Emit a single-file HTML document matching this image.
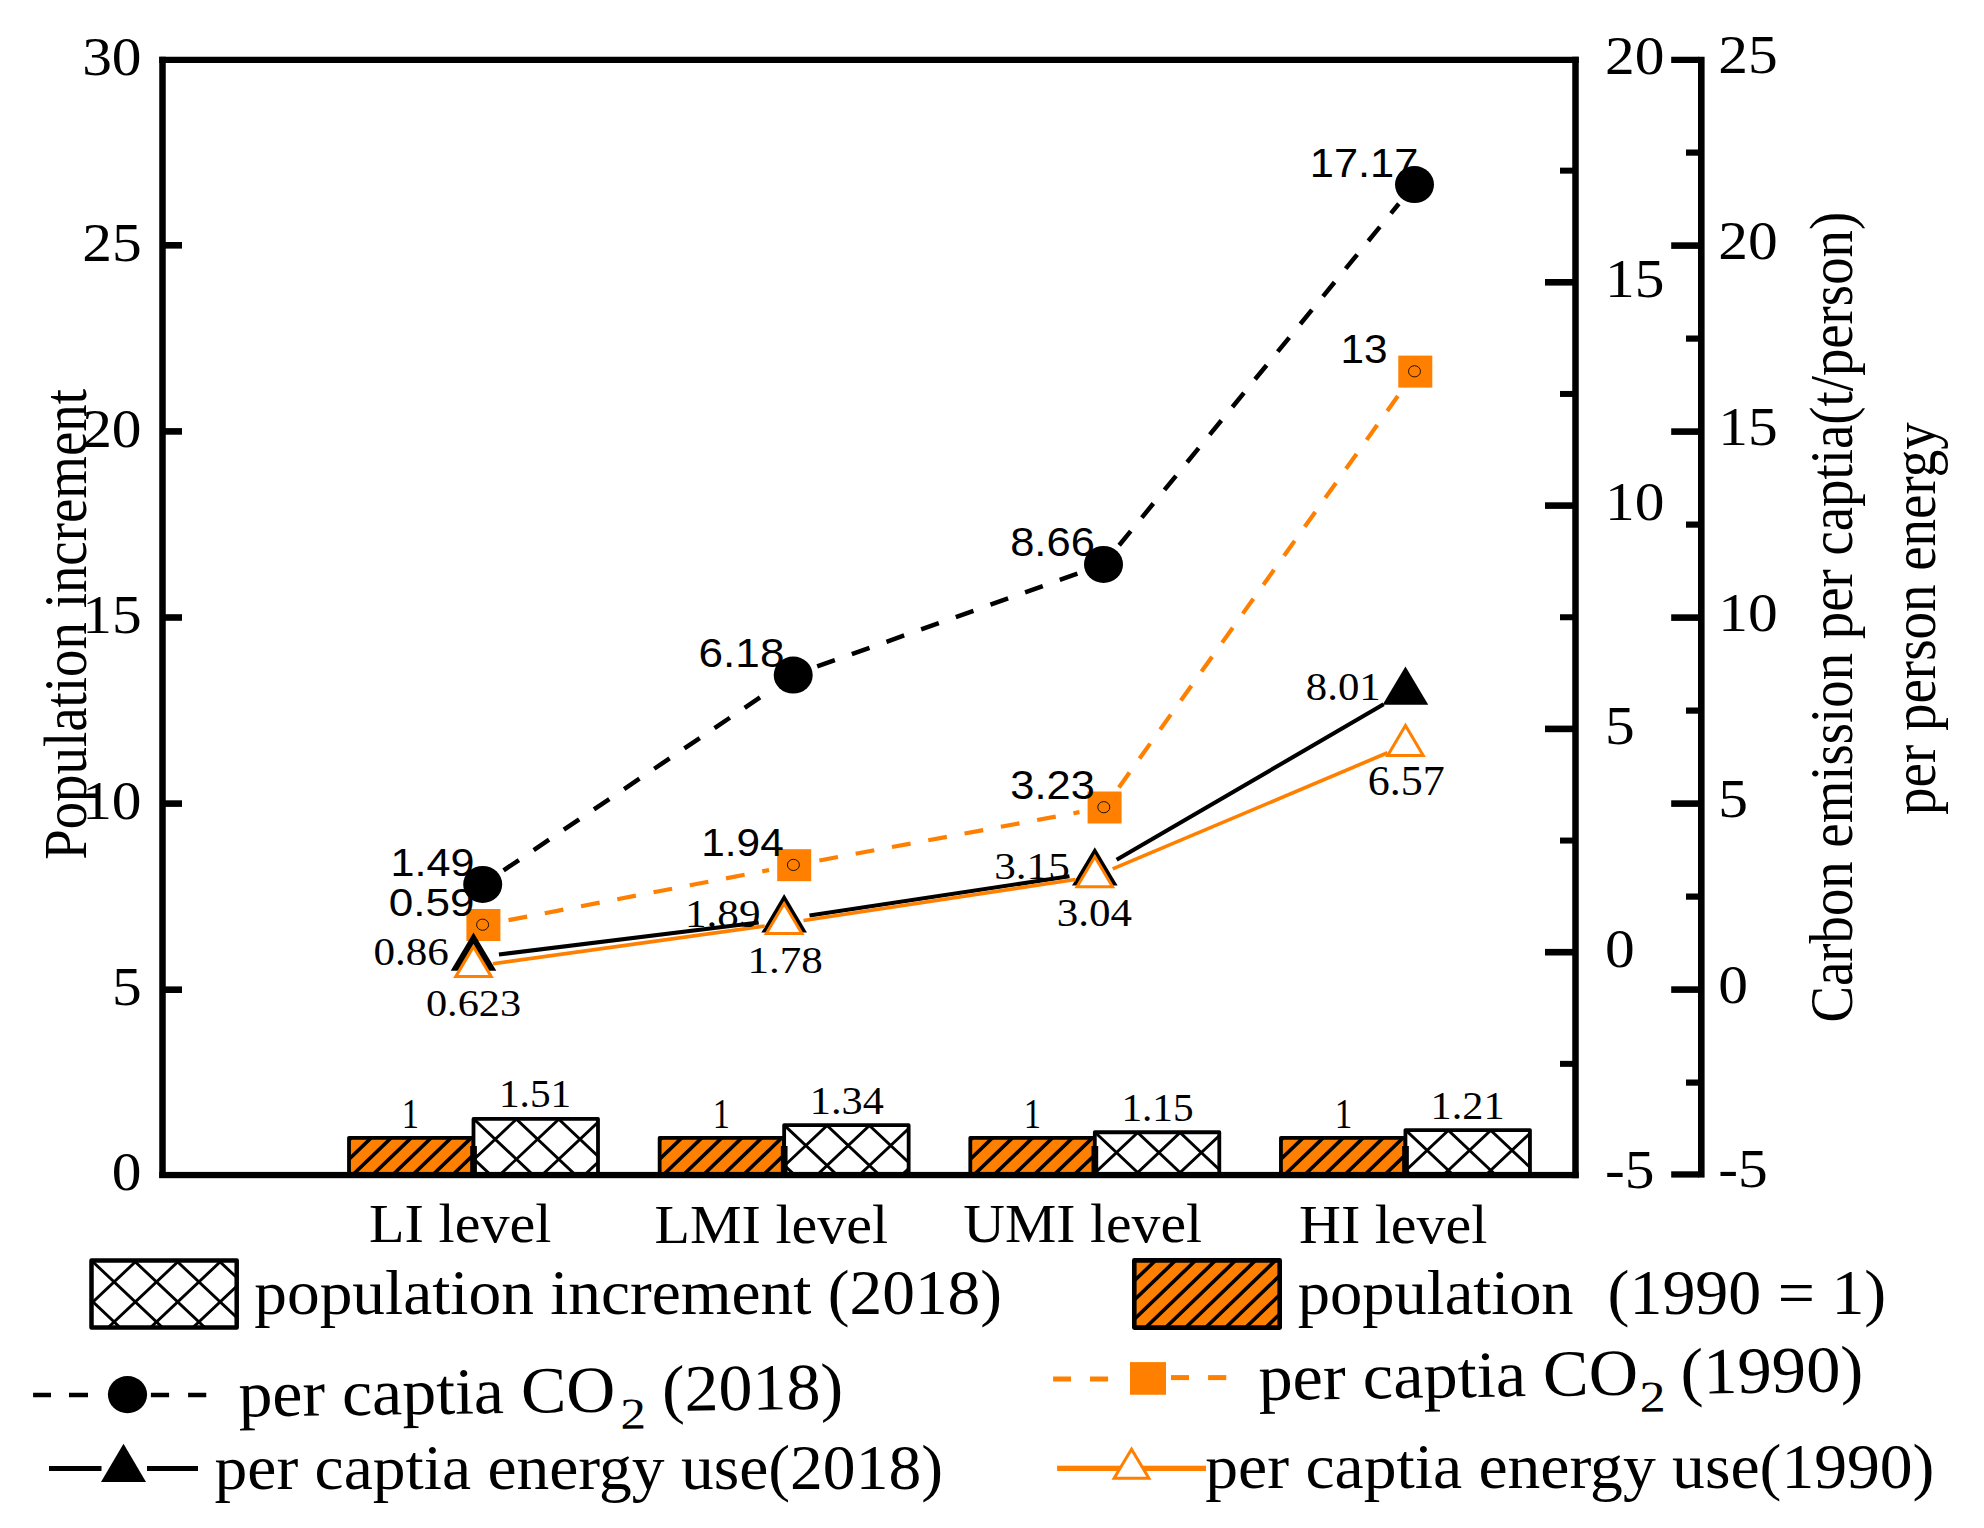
<!DOCTYPE html>
<html><head><meta charset="utf-8"><title>chart</title>
<style>html,body{margin:0;padding:0;background:#fff}svg{display:block}text{white-space:pre}</style></head>
<body><svg width="1984" height="1528" viewBox="0 0 1984 1528" shape-rendering="geometricPrecision">
<rect width="1984" height="1528" fill="#fff"/>
<clipPath id="c1"><rect x="349.00" y="1137.85" width="124.50" height="37.15"/></clipPath>
<rect x="349.00" y="1137.85" width="124.50" height="37.15" fill="#FF8000"/>
<path clip-path="url(#c1)" d="M336.38,1132.85L287.34,1180.00M356.38,1132.85L307.34,1180.00M376.38,1132.85L327.34,1180.00M396.38,1132.85L347.34,1180.00M416.38,1132.85L367.34,1180.00M436.38,1132.85L387.34,1180.00M456.38,1132.85L407.34,1180.00M476.38,1132.85L427.34,1180.00M496.38,1132.85L447.34,1180.00M516.38,1132.85L467.34,1180.00M536.38,1132.85L487.34,1180.00M556.38,1132.85L507.34,1180.00" stroke="#000" stroke-width="3.6" fill="none"/>
<rect x="349.00" y="1137.85" width="124.50" height="37.15" fill="none" stroke="#000" stroke-width="3.8" stroke-linejoin="round"/>
<clipPath id="c2"><rect x="473.50" y="1118.90" width="124.50" height="56.10"/></clipPath>
<rect x="473.50" y="1118.90" width="124.50" height="56.10" fill="#fff"/>
<path clip-path="url(#c2)" d="M341.50,1114.20L411.57,1180.30M383.90,1114.20L453.97,1180.30M426.30,1114.20L496.37,1180.30M468.70,1114.20L538.77,1180.30M511.10,1114.20L581.17,1180.30M553.50,1114.20L623.57,1180.30M595.90,1114.20L665.97,1180.30M638.30,1114.20L708.37,1180.30M436.90,1114.20L366.83,1180.30M479.30,1114.20L409.23,1180.30M521.70,1114.20L451.63,1180.30M564.10,1114.20L494.03,1180.30M606.50,1114.20L536.43,1180.30M648.90,1114.20L578.83,1180.30M691.30,1114.20L621.23,1180.30M733.70,1114.20L663.63,1180.30" stroke="#000" stroke-width="2.9" fill="none"/>
<rect x="473.50" y="1118.90" width="124.50" height="56.10" fill="none" stroke="#000" stroke-width="3.8" stroke-linejoin="round"/>
<clipPath id="c3"><rect x="659.65" y="1137.85" width="124.50" height="37.15"/></clipPath>
<rect x="659.65" y="1137.85" width="124.50" height="37.15" fill="#FF8000"/>
<path clip-path="url(#c3)" d="M647.03,1132.85L597.99,1180.00M667.03,1132.85L617.99,1180.00M687.03,1132.85L637.99,1180.00M707.03,1132.85L657.99,1180.00M727.03,1132.85L677.99,1180.00M747.03,1132.85L697.99,1180.00M767.03,1132.85L717.99,1180.00M787.03,1132.85L737.99,1180.00M807.03,1132.85L757.99,1180.00M827.03,1132.85L777.99,1180.00M847.03,1132.85L797.99,1180.00M867.03,1132.85L817.99,1180.00" stroke="#000" stroke-width="3.6" fill="none"/>
<rect x="659.65" y="1137.85" width="124.50" height="37.15" fill="none" stroke="#000" stroke-width="3.8" stroke-linejoin="round"/>
<clipPath id="c4"><rect x="784.15" y="1125.21" width="124.50" height="49.79"/></clipPath>
<rect x="784.15" y="1125.21" width="124.50" height="49.79" fill="#fff"/>
<path clip-path="url(#c4)" d="M652.15,1120.51L715.52,1180.30M694.55,1120.51L757.92,1180.30M736.95,1120.51L800.32,1180.30M779.35,1120.51L842.72,1180.30M821.75,1120.51L885.12,1180.30M864.15,1120.51L927.52,1180.30M906.55,1120.51L969.92,1180.30M948.95,1120.51L1012.32,1180.30M747.55,1120.51L684.18,1180.30M789.95,1120.51L726.58,1180.30M832.35,1120.51L768.98,1180.30M874.75,1120.51L811.38,1180.30M917.15,1120.51L853.78,1180.30M959.55,1120.51L896.18,1180.30M1001.95,1120.51L938.58,1180.30M1044.35,1120.51L980.98,1180.30" stroke="#000" stroke-width="2.9" fill="none"/>
<rect x="784.15" y="1125.21" width="124.50" height="49.79" fill="none" stroke="#000" stroke-width="3.8" stroke-linejoin="round"/>
<clipPath id="c5"><rect x="970.30" y="1137.85" width="124.50" height="37.15"/></clipPath>
<rect x="970.30" y="1137.85" width="124.50" height="37.15" fill="#FF8000"/>
<path clip-path="url(#c5)" d="M957.68,1132.85L908.64,1180.00M977.68,1132.85L928.64,1180.00M997.68,1132.85L948.64,1180.00M1017.68,1132.85L968.64,1180.00M1037.68,1132.85L988.64,1180.00M1057.68,1132.85L1008.64,1180.00M1077.68,1132.85L1028.64,1180.00M1097.68,1132.85L1048.64,1180.00M1117.68,1132.85L1068.64,1180.00M1137.68,1132.85L1088.64,1180.00M1157.68,1132.85L1108.64,1180.00M1177.68,1132.85L1128.64,1180.00" stroke="#000" stroke-width="3.6" fill="none"/>
<rect x="970.30" y="1137.85" width="124.50" height="37.15" fill="none" stroke="#000" stroke-width="3.8" stroke-linejoin="round"/>
<clipPath id="c6"><rect x="1094.80" y="1132.27" width="124.50" height="42.73"/></clipPath>
<rect x="1094.80" y="1132.27" width="124.50" height="42.73" fill="#fff"/>
<path clip-path="url(#c6)" d="M962.80,1127.57L1018.69,1180.30M1005.20,1127.57L1061.09,1180.30M1047.60,1127.57L1103.49,1180.30M1090.00,1127.57L1145.89,1180.30M1132.40,1127.57L1188.29,1180.30M1174.80,1127.57L1230.69,1180.30M1217.20,1127.57L1273.09,1180.30M1259.60,1127.57L1315.49,1180.30M1058.20,1127.57L1002.31,1180.30M1100.60,1127.57L1044.71,1180.30M1143.00,1127.57L1087.11,1180.30M1185.40,1127.57L1129.51,1180.30M1227.80,1127.57L1171.91,1180.30M1270.20,1127.57L1214.31,1180.30M1312.60,1127.57L1256.71,1180.30M1355.00,1127.57L1299.11,1180.30" stroke="#000" stroke-width="2.9" fill="none"/>
<rect x="1094.80" y="1132.27" width="124.50" height="42.73" fill="none" stroke="#000" stroke-width="3.8" stroke-linejoin="round"/>
<clipPath id="c7"><rect x="1280.95" y="1137.85" width="124.50" height="37.15"/></clipPath>
<rect x="1280.95" y="1137.85" width="124.50" height="37.15" fill="#FF8000"/>
<path clip-path="url(#c7)" d="M1268.33,1132.85L1219.29,1180.00M1288.33,1132.85L1239.29,1180.00M1308.33,1132.85L1259.29,1180.00M1328.33,1132.85L1279.29,1180.00M1348.33,1132.85L1299.29,1180.00M1368.33,1132.85L1319.29,1180.00M1388.33,1132.85L1339.29,1180.00M1408.33,1132.85L1359.29,1180.00M1428.33,1132.85L1379.29,1180.00M1448.33,1132.85L1399.29,1180.00M1468.33,1132.85L1419.29,1180.00M1488.33,1132.85L1439.29,1180.00" stroke="#000" stroke-width="3.6" fill="none"/>
<rect x="1280.95" y="1137.85" width="124.50" height="37.15" fill="none" stroke="#000" stroke-width="3.8" stroke-linejoin="round"/>
<clipPath id="c8"><rect x="1405.45" y="1130.04" width="124.50" height="44.96"/></clipPath>
<rect x="1405.45" y="1130.04" width="124.50" height="44.96" fill="#fff"/>
<path clip-path="url(#c8)" d="M1273.45,1125.34L1331.70,1180.30M1315.85,1125.34L1374.10,1180.30M1358.25,1125.34L1416.50,1180.30M1400.65,1125.34L1458.90,1180.30M1443.05,1125.34L1501.30,1180.30M1485.45,1125.34L1543.70,1180.30M1527.85,1125.34L1586.10,1180.30M1570.25,1125.34L1628.50,1180.30M1368.85,1125.34L1310.60,1180.30M1411.25,1125.34L1353.00,1180.30M1453.65,1125.34L1395.40,1180.30M1496.05,1125.34L1437.80,1180.30M1538.45,1125.34L1480.20,1180.30M1580.85,1125.34L1522.60,1180.30M1623.25,1125.34L1565.00,1180.30M1665.65,1125.34L1607.40,1180.30" stroke="#000" stroke-width="2.9" fill="none"/>
<rect x="1405.45" y="1130.04" width="124.50" height="44.96" fill="none" stroke="#000" stroke-width="3.8" stroke-linejoin="round"/>
<rect x="470.20" y="1146.00" width="6.70" height="27.00" fill="#000"/>
<rect x="780.85" y="1146.00" width="6.70" height="27.00" fill="#000"/>
<rect x="1091.50" y="1146.00" width="6.70" height="27.00" fill="#000"/>
<rect x="1402.15" y="1146.00" width="6.70" height="27.00" fill="#000"/>
<rect x="159.25" y="56.75" width="6.50" height="1121.25" fill="#000"/>
<rect x="159.25" y="56.75" width="1419.50" height="6.25" fill="#000"/>
<rect x="159.25" y="1171.90" width="1419.50" height="6.30" fill="#000"/>
<rect x="1572.25" y="56.75" width="6.50" height="1121.45" fill="#000"/>
<rect x="1698.00" y="56.75" width="6.60" height="1120.85" fill="#000"/>
<rect x="165.00" y="986.40" width="17.00" height="6.60" fill="#000"/>
<rect x="165.00" y="800.30" width="17.00" height="6.60" fill="#000"/>
<rect x="165.00" y="614.20" width="17.00" height="6.60" fill="#000"/>
<rect x="165.00" y="428.10" width="17.00" height="6.60" fill="#000"/>
<rect x="165.00" y="242.00" width="17.00" height="6.60" fill="#000"/>
<rect x="1545.00" y="948.90" width="28.00" height="6.60" fill="#000"/>
<rect x="1545.00" y="725.60" width="28.00" height="6.60" fill="#000"/>
<rect x="1545.00" y="502.30" width="28.00" height="6.60" fill="#000"/>
<rect x="1545.00" y="279.00" width="28.00" height="6.60" fill="#000"/>
<rect x="1560.00" y="1060.85" width="13.00" height="6.00" fill="#000"/>
<rect x="1560.00" y="837.55" width="13.00" height="6.00" fill="#000"/>
<rect x="1560.00" y="614.25" width="13.00" height="6.00" fill="#000"/>
<rect x="1560.00" y="390.95" width="13.00" height="6.00" fill="#000"/>
<rect x="1560.00" y="167.65" width="13.00" height="6.00" fill="#000"/>
<rect x="1671.20" y="1171.30" width="27.80" height="6.30" fill="#000"/>
<rect x="1671.20" y="986.30" width="27.80" height="6.60" fill="#000"/>
<rect x="1671.20" y="800.30" width="27.80" height="6.60" fill="#000"/>
<rect x="1671.20" y="614.30" width="27.80" height="6.60" fill="#000"/>
<rect x="1671.20" y="428.30" width="27.80" height="6.60" fill="#000"/>
<rect x="1671.20" y="242.30" width="27.80" height="6.60" fill="#000"/>
<rect x="1671.20" y="56.75" width="27.80" height="6.25" fill="#000"/>
<rect x="1686.00" y="1079.50" width="13.00" height="6.20" fill="#000"/>
<rect x="1686.00" y="893.50" width="13.00" height="6.20" fill="#000"/>
<rect x="1686.00" y="707.50" width="13.00" height="6.20" fill="#000"/>
<rect x="1686.00" y="521.50" width="13.00" height="6.20" fill="#000"/>
<rect x="1686.00" y="335.50" width="13.00" height="6.20" fill="#000"/>
<rect x="1686.00" y="149.50" width="13.00" height="6.20" fill="#000"/>
<path d="M508.53,920.16L527.13,916.59M544.78,913.19L563.37,909.61M581.03,906.22L599.62,902.64M617.28,899.24L635.87,895.66M653.53,892.27L672.12,888.69M689.77,885.29L708.36,881.72M726.02,878.32L744.61,874.74M762.27,871.34L769.07,870.04" stroke="#FF8000" stroke-width="4.2" fill="none"/>
<path d="M819.37,860.52L837.98,857.06M855.66,853.77L874.28,850.31M891.96,847.03L910.58,843.57M928.26,840.28L946.87,836.82M964.55,833.53L983.17,830.07M1000.85,826.79L1019.46,823.33M1037.14,820.04L1055.76,816.58M1073.44,813.29L1079.43,812.18" stroke="#FF8000" stroke-width="4.2" fill="none"/>
<path d="M1118.91,787.42L1129.50,772.56M1139.56,758.46L1150.14,743.60M1160.20,729.50L1170.79,714.64M1180.84,700.53L1191.43,685.68M1201.49,671.57L1212.07,656.72M1222.13,642.61L1232.72,627.76M1242.77,613.65L1253.36,598.80M1263.41,584.69L1274.00,569.84M1284.06,555.73L1294.65,540.87M1304.70,526.77L1315.29,511.91M1325.34,497.81L1335.93,482.95M1345.99,468.84L1356.57,453.99M1366.63,439.88L1377.22,425.03M1387.27,410.92L1397.86,396.07" stroke="#FF8000" stroke-width="4.2" fill="none"/>
<rect x="466.40" y="909.00" width="34" height="32" fill="#FF8000"/>
<ellipse cx="482.60" cy="924.70" rx="6" ry="5.6" fill="none" stroke="#201000" stroke-width="1"/>
<rect x="777.20" y="849.20" width="34" height="32" fill="#FF8000"/>
<ellipse cx="793.40" cy="864.90" rx="6" ry="5.6" fill="none" stroke="#201000" stroke-width="1"/>
<rect x="1087.60" y="791.50" width="34" height="32" fill="#FF8000"/>
<ellipse cx="1103.80" cy="807.20" rx="6" ry="5.6" fill="none" stroke="#201000" stroke-width="1"/>
<rect x="1398.30" y="355.60" width="34" height="32" fill="#FF8000"/>
<ellipse cx="1414.50" cy="371.30" rx="6" ry="5.6" fill="none" stroke="#201000" stroke-width="1"/>
<path d="M503.57,870.38L518.92,860.03M533.71,850.05L549.06,839.70M563.84,829.73L579.19,819.37M593.98,809.40L609.33,799.05M624.12,789.08L639.47,778.72M654.26,768.75L669.61,758.40M684.40,748.43L699.75,738.07M714.54,728.10L729.88,717.75M744.67,707.78L760.02,697.42" stroke="#000" stroke-width="4.5" fill="none"/>
<path d="M817.20,666.49L834.84,660.20M851.85,654.14L869.50,647.84M886.50,641.78L904.15,635.49M921.16,629.42L938.81,623.13M955.81,617.06L973.46,610.77M990.47,604.71L1008.11,598.41M1025.12,592.35L1042.77,586.06M1059.77,579.99L1077.42,573.70" stroke="#000" stroke-width="4.5" fill="none"/>
<path d="M1119.18,545.25L1130.72,531.16M1141.83,517.59L1153.36,503.50M1164.48,489.93L1176.01,475.85M1187.13,462.27L1198.66,448.19M1209.77,434.62L1221.31,420.53M1232.42,406.96L1243.96,392.87M1255.07,379.30L1266.61,365.21M1277.72,351.64L1289.25,337.55M1300.37,323.98L1311.90,309.89M1323.02,296.32L1334.55,282.24M1345.66,268.66L1357.20,254.58M1368.31,241.01L1379.85,226.92M1390.96,213.35L1398.82,203.75" stroke="#000" stroke-width="4.5" fill="none"/>
<ellipse cx="482.70" cy="884.45" rx="19.5" ry="18.5" fill="#000"/>
<ellipse cx="793.20" cy="675.05" rx="19.5" ry="18.5" fill="#000"/>
<ellipse cx="1103.50" cy="564.40" rx="19.5" ry="18.5" fill="#000"/>
<ellipse cx="1414.50" cy="184.60" rx="19.5" ry="18.5" fill="#000"/>
<line x1="498.94" y1="954.47" x2="758.71" y2="922.43" stroke="#000" stroke-width="4.1"/>
<line x1="809.48" y1="915.47" x2="1069.47" y2="876.24" stroke="#000" stroke-width="4.1"/>
<line x1="1116.63" y1="859.71" x2="1383.62" y2="704.33" stroke="#000" stroke-width="4.1"/>
<polygon points="473.50,932.41 450.70,970.81 496.30,970.81" fill="#000" />
<polygon points="784.15,894.09 761.35,932.49 806.95,932.49" fill="#000" />
<polygon points="1094.80,847.22 1072.00,885.62 1117.60,885.62" fill="#000" />
<polygon points="1405.45,666.43 1382.65,704.83 1428.25,704.83" fill="#000" />
<line x1="492.90" y1="963.74" x2="764.75" y2="926.07" stroke="#FF8000" stroke-width="3.6"/>
<line x1="803.51" y1="920.46" x2="1075.44" y2="879.43" stroke="#FF8000" stroke-width="3.6"/>
<line x1="1112.70" y1="868.95" x2="1387.55" y2="752.76" stroke="#FF8000" stroke-width="3.6"/>
<polygon points="473.50,946.62 455.75,976.62 491.25,976.62" fill="#fff" stroke="#FF8000" stroke-width="3" stroke-linejoin="miter"/>
<polygon points="784.15,903.58 766.40,933.58 801.90,933.58" fill="#fff" stroke="#FF8000" stroke-width="3" stroke-linejoin="miter"/>
<polygon points="1094.80,856.71 1077.05,886.71 1112.55,886.71" fill="#fff" stroke="#FF8000" stroke-width="3" stroke-linejoin="miter"/>
<polygon points="1405.45,725.40 1387.70,755.40 1423.20,755.40" fill="#fff" stroke="#FF8000" stroke-width="3" stroke-linejoin="miter"/>
<text transform="translate(390.51,875.86) scale(1.1101,1)" font-family='"Liberation Sans", sans-serif' font-size="38.87" fill="#000">1.49</text>
<text transform="translate(388.74,915.86) scale(1.1342,1)" font-family='"Liberation Sans", sans-serif' font-size="38.87" fill="#000">0.59</text>
<text transform="translate(698.54,666.60) scale(1.1052,1)" font-family='"Liberation Sans", sans-serif' font-size="39.93" fill="#000">6.18</text>
<text transform="translate(701.32,855.86) scale(1.0891,1)" font-family='"Liberation Sans", sans-serif' font-size="38.87" fill="#000">1.94</text>
<text transform="translate(1010.15,555.85) scale(1.0906,1)" font-family='"Liberation Sans", sans-serif' font-size="39.93" fill="#000">8.66</text>
<text transform="translate(1010.37,799.10) scale(1.0877,1)" font-family='"Liberation Sans", sans-serif' font-size="39.93" fill="#000">3.23</text>
<text transform="translate(1309.74,177.00) scale(1.0569,1)" font-family='"Liberation Sans", sans-serif' font-size="41.09" fill="#000">17.17</text>
<text transform="translate(1340.58,363.34) scale(1.0414,1)" font-family='"Liberation Sans", sans-serif' font-size="40.64" fill="#000">13</text>
<text transform="translate(373.38,964.91) scale(1.0954,1)" font-family='"Liberation Serif", serif' font-size="39.34" fill="#000">0.86</text>
<text transform="translate(425.91,1015.67) scale(1.0970,1)" font-family='"Liberation Serif", serif' font-size="38.60" fill="#000">0.623</text>
<text transform="translate(684.97,926.89) scale(1.0668,1)" font-family='"Liberation Serif", serif' font-size="40.44" fill="#000">1.89</text>
<text transform="translate(994.20,879.42) scale(1.1139,1)" font-family='"Liberation Serif", serif' font-size="38.75" fill="#000">3.15</text>
<text transform="translate(1056.71,926.40) scale(1.0820,1)" font-family='"Liberation Serif", serif' font-size="39.71" fill="#000">3.04</text>
<text transform="translate(747.54,972.52) scale(1.1164,1)" font-family='"Liberation Serif", serif' font-size="38.53" fill="#000">1.78</text>
<text transform="translate(1305.80,700.28) scale(1.0428,1)" font-family='"Liberation Serif", serif' font-size="41.03" fill="#000">8.01</text>
<text transform="translate(1367.73,795.38) scale(1.0621,1)" font-family='"Liberation Serif", serif' font-size="41.48" fill="#000">6.57</text>
<text transform="translate(712.70,1127.70) scale(0.8329,1)" font-family='"Liberation Serif", serif' font-size="41.21" fill="#000">1</text>
<text transform="translate(809.80,1114.29) scale(1.0423,1)" font-family='"Liberation Serif", serif' font-size="40.59" fill="#000">1.34</text>
<text transform="translate(401.77,1127.70) scale(0.8398,1)" font-family='"Liberation Serif", serif' font-size="41.21" fill="#000">1</text>
<text transform="translate(498.88,1107.41) scale(1.0432,1)" font-family='"Liberation Serif", serif' font-size="39.63" fill="#000">1.51</text>
<text transform="translate(1023.77,1127.70) scale(0.8398,1)" font-family='"Liberation Serif", serif' font-size="41.21" fill="#000">1</text>
<text transform="translate(1121.39,1120.66) scale(1.0420,1)" font-family='"Liberation Serif", serif' font-size="39.63" fill="#000">1.15</text>
<text transform="translate(1334.72,1127.70) scale(0.8536,1)" font-family='"Liberation Serif", serif' font-size="41.21" fill="#000">1</text>
<text transform="translate(1430.60,1119.29) scale(1.0408,1)" font-family='"Liberation Serif", serif' font-size="40.59" fill="#000">1.21</text>
<text transform="translate(111.83,1189.70) scale(1.0800,1)" font-family='"Liberation Serif", serif' font-size="55.00">0</text>
<text transform="translate(111.98,1004.90) scale(1.0800,1)" font-family='"Liberation Serif", serif' font-size="55.00">5</text>
<text transform="translate(82.13,818.80) scale(1.0800,1)" font-family='"Liberation Serif", serif' font-size="55.00">10</text>
<text transform="translate(82.28,632.70) scale(1.0800,1)" font-family='"Liberation Serif", serif' font-size="55.00">15</text>
<text transform="translate(82.13,446.60) scale(1.0800,1)" font-family='"Liberation Serif", serif' font-size="55.00">20</text>
<text transform="translate(82.28,260.50) scale(1.0800,1)" font-family='"Liberation Serif", serif' font-size="55.00">25</text>
<text transform="translate(82.13,75.10) scale(1.0800,1)" font-family='"Liberation Serif", serif' font-size="55.00">30</text>
<text transform="translate(1605.00,1188.30) scale(1.08,1)" font-family='"Liberation Serif", serif' font-size="55">-5</text>
<text transform="translate(1605.00,966.80) scale(1.08,1)" font-family='"Liberation Serif", serif' font-size="55">0</text>
<text transform="translate(1605.00,743.50) scale(1.08,1)" font-family='"Liberation Serif", serif' font-size="55">5</text>
<text transform="translate(1605.00,520.20) scale(1.08,1)" font-family='"Liberation Serif", serif' font-size="55">10</text>
<text transform="translate(1605.00,296.90) scale(1.08,1)" font-family='"Liberation Serif", serif' font-size="55">15</text>
<text transform="translate(1605.00,73.60) scale(1.08,1)" font-family='"Liberation Serif", serif' font-size="55">20</text>
<text transform="translate(1718.30,1187.20) scale(1.08,1)" font-family='"Liberation Serif", serif' font-size="55">-5</text>
<text transform="translate(1718.30,1002.50) scale(1.08,1)" font-family='"Liberation Serif", serif' font-size="55">0</text>
<text transform="translate(1718.30,816.50) scale(1.08,1)" font-family='"Liberation Serif", serif' font-size="55">5</text>
<text transform="translate(1718.30,630.50) scale(1.08,1)" font-family='"Liberation Serif", serif' font-size="55">10</text>
<text transform="translate(1718.30,444.50) scale(1.08,1)" font-family='"Liberation Serif", serif' font-size="55">15</text>
<text transform="translate(1718.30,258.50) scale(1.08,1)" font-family='"Liberation Serif", serif' font-size="55">20</text>
<text transform="translate(1718.30,72.50) scale(1.08,1)" font-family='"Liberation Serif", serif' font-size="55">25</text>
<text transform="translate(369.05,1242.25) scale(1.0576,1)" font-family='"Liberation Serif", serif' font-size="55.00" fill="#000">LI level</text>
<text transform="translate(654.51,1242.75) scale(1.0555,1)" font-family='"Liberation Serif", serif' font-size="55.00" fill="#000">LMI level</text>
<text transform="translate(963.35,1242.25) scale(1.0494,1)" font-family='"Liberation Serif", serif' font-size="55.00" fill="#000">UMI level</text>
<text transform="translate(1299.01,1242.75) scale(1.0548,1)" font-family='"Liberation Serif", serif' font-size="55.00" fill="#000">HI level</text>
<text transform="translate(85.70,859.85) rotate(-90) scale(0.9978,1.1000)" font-family='"Liberation Serif", serif' font-size="55.00">Population increment</text>
<text transform="translate(1851.80,1022.59) rotate(-90) scale(0.9961,1.1000)" font-family='"Liberation Serif", serif' font-size="55.00">Carbon emission per captia(t/person)</text>
<text transform="translate(1934.80,814.92) rotate(-90) scale(0.9993,1.1000)" font-family='"Liberation Serif", serif' font-size="55.00">per person energy</text>
<clipPath id="c9"><rect x="91.50" y="1260.40" width="145.20" height="67.10"/></clipPath>
<rect x="91.50" y="1260.40" width="145.20" height="67.10" fill="#fff"/>
<path clip-path="url(#c9)" d="M-39.60,1256.90L42.13,1334.00M2.80,1256.90L84.53,1334.00M45.20,1256.90L126.93,1334.00M87.60,1256.90L169.33,1334.00M130.00,1256.90L211.73,1334.00M172.40,1256.90L254.13,1334.00M214.80,1256.90L296.53,1334.00M257.20,1256.90L338.93,1334.00M299.60,1256.90L381.33,1334.00M55.80,1256.90L-25.93,1334.00M98.20,1256.90L16.47,1334.00M140.60,1256.90L58.87,1334.00M183.00,1256.90L101.27,1334.00M225.40,1256.90L143.67,1334.00M267.80,1256.90L186.07,1334.00M310.20,1256.90L228.47,1334.00M352.60,1256.90L270.87,1334.00M395.00,1256.90L313.27,1334.00" stroke="#000" stroke-width="2.9" fill="none"/>
<rect x="91.50" y="1260.40" width="145.20" height="67.10" fill="none" stroke="#000" stroke-width="4.5" stroke-linejoin="round"/>
<clipPath id="c10"><rect x="1134.30" y="1260.40" width="145.40" height="67.20"/></clipPath>
<rect x="1134.30" y="1260.40" width="145.40" height="67.20" fill="#FF8000"/>
<path clip-path="url(#c10)" d="M1120.75,1255.40L1040.46,1332.60M1140.75,1255.40L1060.46,1332.60M1160.75,1255.40L1080.46,1332.60M1180.75,1255.40L1100.46,1332.60M1200.75,1255.40L1120.46,1332.60M1220.75,1255.40L1140.46,1332.60M1240.75,1255.40L1160.46,1332.60M1260.75,1255.40L1180.46,1332.60M1280.75,1255.40L1200.46,1332.60M1300.75,1255.40L1220.46,1332.60M1320.75,1255.40L1240.46,1332.60M1340.75,1255.40L1260.46,1332.60M1360.75,1255.40L1280.46,1332.60M1380.75,1255.40L1300.46,1332.60" stroke="#000" stroke-width="3.6" fill="none"/>
<rect x="1134.30" y="1260.40" width="145.40" height="67.20" fill="none" stroke="#000" stroke-width="4.6" stroke-linejoin="round"/>
<text transform="translate(254.32,1313.90) scale(1.0441,1)" font-family='"Liberation Serif", serif' font-size="62.60">population increment (2018)</text>
<text transform="translate(1297.78,1313.75) scale(1.0303,1)" font-family='"Liberation Serif", serif' font-size="62.60">population</text>
<text transform="translate(1607.53,1313.75) scale(1.0528,1)" font-family='"Liberation Serif", serif' font-size="62.60">(1990 = 1)</text>
<text transform="translate(214.52,1488.70) scale(1.0471,1)" font-family='"Liberation Serif", serif' font-size="62.60">per captia energy use(2018)</text>
<text transform="translate(1205.27,1488.00) scale(1.0481,1)" font-family='"Liberation Serif", serif' font-size="62.60">per captia energy use(1990)</text>
<g transform="rotate(-0.75,239.7,1416.5)">
<text transform="translate(238.68,1416.50) scale(1.0282,1)" font-family='"Liberation Serif", serif' font-size="66.00">per captia CO</text>
<text transform="translate(662.24,1416.50) scale(1.0293,1)" font-family='"Liberation Serif", serif' font-size="66.00">(2018)</text>
<text transform="translate(620.39,1433.80) scale(1.1648,1)" font-family='"Liberation Serif", serif' font-size="44.00">2</text>
</g>
<g transform="rotate(-0.85,1259.7,1400.1)">
<text transform="translate(1258.67,1400.10) scale(1.0362,1)" font-family='"Liberation Serif", serif' font-size="66.00">per captia CO</text>
<text transform="translate(1680.82,1400.10) scale(1.0387,1)" font-family='"Liberation Serif", serif' font-size="66.00">(1990)</text>
<text transform="translate(1639.66,1417.40) scale(1.1818,1)" font-family='"Liberation Serif", serif' font-size="44.00">2</text>
</g>
<rect x="33.10" y="1392.75" width="17.90" height="4.50" fill="#000"/>
<rect x="69.00" y="1392.75" width="19.00" height="4.50" fill="#000"/>
<rect x="150.90" y="1392.75" width="18.20" height="4.50" fill="#000"/>
<rect x="188.10" y="1392.75" width="18.15" height="4.50" fill="#000"/>
<ellipse cx="127.5" cy="1394.6" rx="19.6" ry="18.6" fill="#000"/>
<rect x="1053.10" y="1376.50" width="17.90" height="5.00" fill="#FF8000"/>
<rect x="1090.00" y="1376.50" width="18.10" height="5.00" fill="#FF8000"/>
<rect x="1171.00" y="1375.10" width="18.00" height="5.00" fill="#FF8000"/>
<rect x="1208.10" y="1375.10" width="18.15" height="5.00" fill="#FF8000"/>
<rect x="1130" y="1362.1" width="36" height="32.65" fill="#FF8000"/>
<rect x="49.00" y="1466.00" width="52.50" height="5.00" fill="#000"/>
<rect x="147.00" y="1466.00" width="51.00" height="5.00" fill="#000"/>
<polygon points="123.5,1443.75 101,1482 146,1482" fill="#000"/>
<rect x="1057.10" y="1465.70" width="148.90" height="5.30" fill="#FF8000"/>
<polygon points="1131.5,1449.2 1114.1,1478.25 1148.9,1478.25" fill="#fff" stroke="#FF8000" stroke-width="3"/>
</svg></body></html>
